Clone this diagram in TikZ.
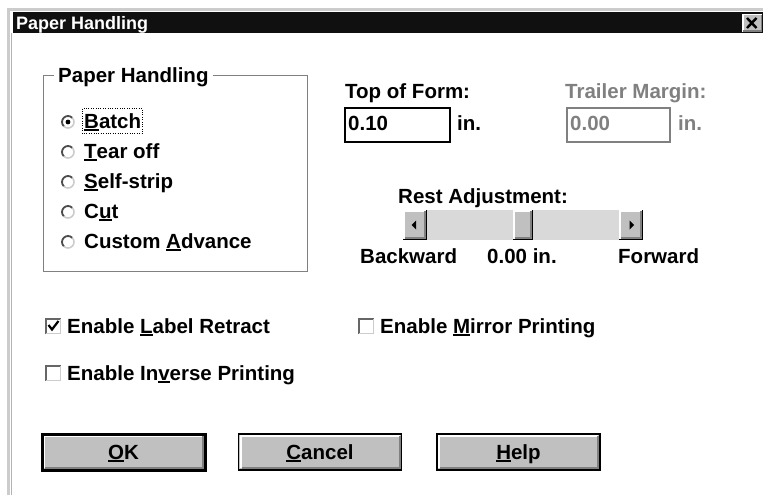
\documentclass[tikz,border=0pt]{standalone}
\usepackage{fontspec}
\setmainfont{Liberation Sans}
\definecolor{winface}{HTML}{C0C0C0}
\definecolor{winshadow}{HTML}{808080}
\definecolor{wintrack}{HTML}{D9D9D9}
\definecolor{winframe}{HTML}{CCCCCC}
\definecolor{titlebar}{HTML}{101010}
% underlined access key
\newcommand\hotkey[1]{\setbox0\hbox{#1}\rlap{\rule[-2.6pt]{\wd0}{1.4pt}}\box0}
\begin{document}
\begin{tikzpicture}[x=1pt,y=-1pt,
  txt/.style={anchor=base west,inner sep=0pt,font=\fontsize{20.5}{24}\selectfont\bfseries},
  dim/.style={txt,text=winshadow},
  btntxt/.style={txt,anchor=base}]
\useasboundingbox (0,0) rectangle (763,495);
%
% window frame and caption bar
\draw[winframe,line width=3] (8.5,495) -- (8.5,9.5) -- (763,9.5);
\draw[winshadow!60] (11.5,33) -- (11.5,495);
\fill[titlebar] (13,12) rectangle (763,33);
\node[txt,text=white,font=\fontsize{18}{20}\selectfont\bfseries] (caption) at (16,29.5) {Paper Handling};
\fill[winface] (742,14) rectangle (762,32);
\draw[white,line width=1.5] (742.75,32) -- (742.75,14.75) -- (762,14.75);
\draw[winshadow,line width=1.5] (743,31.25) -- (761.25,31.25) -- (761.25,15);
\draw[line width=2.4] (747,18) -- (756.5,28) (747,28) -- (756.5,18);
%
% group box with the radio buttons
\draw[winshadow] (54,75.5) -- (43.5,75.5) -- (43.5,271.5) -- (307.5,271.5) -- (307.5,75.5) -- (213,75.5);
\node[txt] (group) at (58,82.5) {Paper Handling};
\foreach \y/\lab/\n in {128/{\hotkey{B}atch}/batch,158/{\hotkey{T}ear off}/tear,188/{\hotkey{S}elf-strip}/strip,218/{C\hotkey{u}t}/cut,248/{Custom \hotkey{A}dvance}/custom}{
  \draw[winframe,line width=1.6] (68,\y-6) ++(315:6) arc[start angle=315,end angle=495,radius=6];
  \draw[black!70,line width=1.8] (68,\y-6) ++(135:6) arc[start angle=135,end angle=315,radius=6];
  \node[txt] (rb-\n) at (84,\y) {\lab};
}
\fill (68,122) circle (2.4);
\draw[dotted] (82,108.5) rectangle (142.5,133);
%
% top of form / trailer margin
\node[txt] (tof) at (345,99) {Top of Form:};
\draw[line width=1.5] (345,108) rectangle (450,142);
\node[txt] (tofval) at (348,130) {0.10};
\node[txt] (tofunit) at (457,130) {in.};
\node[dim] (trl) at (565,99) {Trailer Margin:};
\draw[winshadow,line width=1.5] (567,108) rectangle (670,142);
\node[dim] (trlval) at (570,130) {0.00};
\node[dim] (trlunit) at (678,130) {in.};
%
% rest adjustment scroll bar
\node[txt] (rest) at (398,203) {Rest Adjustment:};
\fill[wintrack] (403,210) rectangle (643,240);
\foreach \a/\b in {403/427,513/533,619/643}{
  \fill[winface] (\a,210) rectangle (\b,240);
  \draw[white,line width=1.5] (\a+1,239) -- (\a+1,211) -- (\b-1,211);
  \draw[winshadow,line width=1.5] (\a+1.5,238) -- (\b-2,238) -- (\b-2,211);
  \draw (\a,239.5) -- (\b-0.5,239.5) -- (\b-0.5,210);
}
\fill (411.5,225) -- (416,220.5) -- (416,229.5) -- cycle;
\fill (634,225) -- (629.5,220.5) -- (629.5,229.5) -- cycle;
\node[txt] (back) at (360,263) {Backward};
\node[txt] (restval) at (487,263) {0.00 in.};
\node[txt] (fwd) at (618,263) {Forward};
%
% check boxes
\foreach \x/\y in {45/318,358/318,45/365}{
  \fill[white] (\x,\y) rectangle (\x+16,\y+16);
  \draw[black!60,line width=1.8] (\x+0.9,\y+16) -- (\x+0.9,\y+0.9) -- (\x+16,\y+0.9);
  \draw[winframe,line width=1.4] (\x+1,\y+15.3) -- (\x+15.3,\y+15.3) -- (\x+15.3,\y+1);
}
\draw[line width=2.2] (48.5,325) -- (52,329.5) -- (58.5,321);
\node[txt] (retract) at (67,333) {Enable \hotkey{L}abel Retract};
\node[txt] (mirror) at (380,333) {Enable \hotkey{M}irror Printing};
\node[txt] (inverse) at (67,380) {Enable In\hotkey{v}erse Printing};
%
% push buttons
\foreach \x/\lab/\n in {42/{\hotkey{O}K}/ok,238.5/{\hotkey{C}ancel}/cancel,437/{\hotkey{H}elp}/help}{
  \fill[winface] (\x,434) rectangle (\x+163,470);
  \draw[white,line width=2] (\x+2,468) -- (\x+2,436) -- (\x+161,436);
  \draw[winshadow,line width=2] (\x+3,468) -- (\x+161,468) -- (\x+161,436);
  \draw[line width=1.5] (\x,434) rectangle (\x+163,470);
  \node[btntxt] (btn-\n) at (\x+81.5,459) {\lab};
}
\draw[line width=3] (42,434) rectangle (205,470);
\end{tikzpicture}
\end{document}
